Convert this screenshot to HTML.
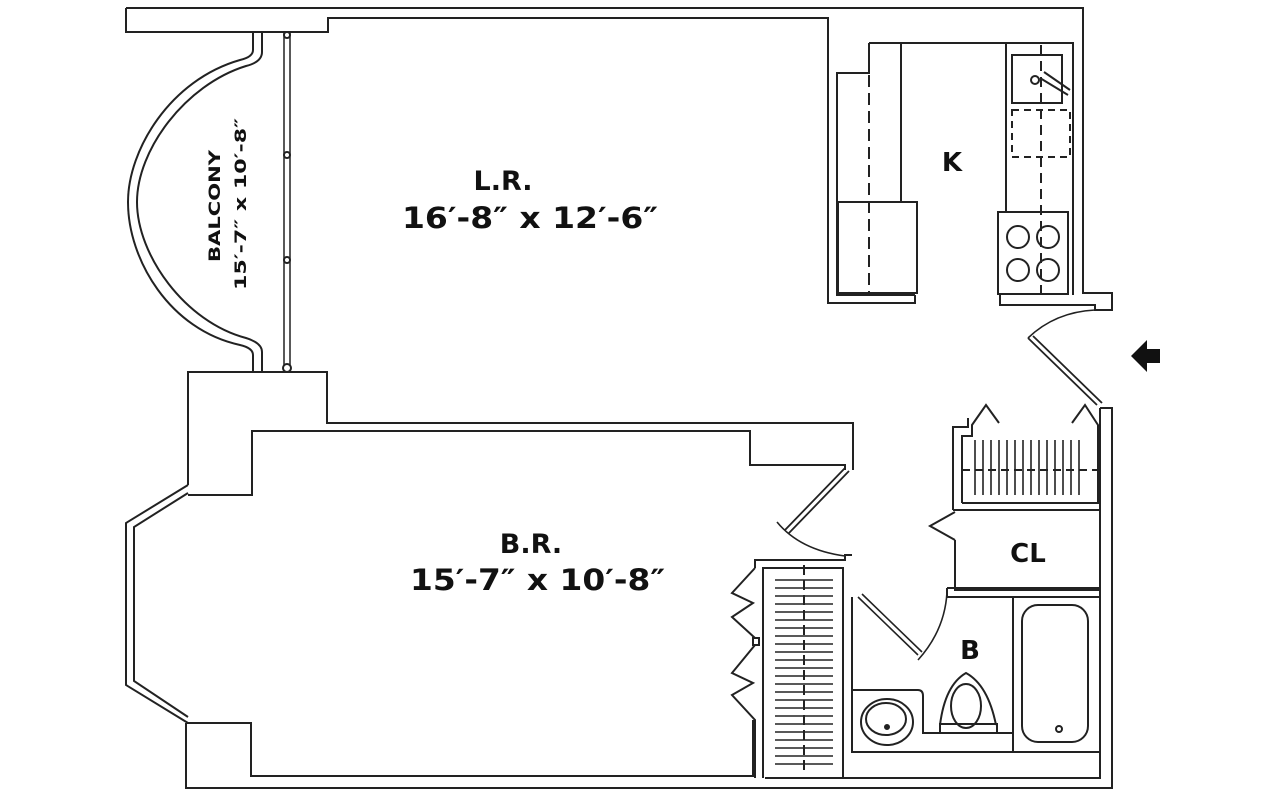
<!DOCTYPE html>
<html><head><meta charset="utf-8"><style>
html,body{margin:0;padding:0;background:#fff;width:1280px;height:800px;overflow:hidden}
svg{display:block}
text{font-family:"DejaVu Sans","Liberation Sans",sans-serif;font-weight:bold;fill:#111}
</style></head><body>
<svg width="1280" height="800" viewBox="0 0 1280 800" xmlns="http://www.w3.org/2000/svg">
<g fill="none" stroke="#222" stroke-width="2" stroke-linejoin="miter">
<path d="M126,8 L1083,8 L1083,293 L1112,293 L1112,310 L1095,310 L1095,305 L1000,305 L1000,295"/>
<path d="M126,8 L126,32 L328,32 L328,18 L828,18 L828,303 L915,303 L915,295"/>
<path d="M869,43 L1073,43 L1073,295"/>
<path d="M869,43 L869,73 L837,73 L837,295 L915,295"/>
<path d="M901,43 L901,202"/>
<rect x="838" y="202" width="79" height="91"/>
<path d="M869,75 L869,295" stroke-dasharray="12,6"/>
<path d="M1006,43 L1006,212"/>
<rect x="1012" y="55" width="50" height="48"/>
<rect x="1012" y="110" width="58" height="47" stroke-dasharray="7,5"/>
<path d="M1041,45 L1041,295" stroke-dasharray="10,6"/>
<rect x="998" y="212" width="70" height="82"/>
<circle cx="1018" cy="237" r="11"/><circle cx="1048" cy="237" r="11"/>
<circle cx="1018" cy="270" r="11"/><circle cx="1048" cy="270" r="11"/>
<circle cx="1035" cy="80" r="4"/><path d="M1040,78 L1068,95 M1044,72 L1070,90"/>
<path d="M1028,338 L1097,405 M1033,336 L1102,403" stroke-width="1.8"/>
<path d="M1028,338 Q1055,312 1095,310" stroke-width="1.6"/>
<path d="M1100,408 L1112,408 L1112,788 L186,788 L186,723"/>
<path d="M1100,408 L1100,778 L765,778"/>
<path d="M253,32 L253,50 Q253,57 240,60 C170,80 128,150 128,202 C128,260 170,330 240,345 Q253,348 253,355 L253,372"/>
<path d="M262,32 L262,52 Q262,62 246,66 C185,85 137,150 137,202 C137,255 185,322 246,338 Q262,343 262,352 L262,372"/>
<path d="M284,32 L284,372 M290,32 L290,372" stroke-width="1.5"/>
<circle cx="287" cy="155" r="3" fill="#fff"/><circle cx="287" cy="260" r="3" fill="#fff"/><circle cx="287" cy="368" r="4" fill="#fff"/><circle cx="287" cy="35" r="3" fill="#fff"/>
<path d="M188,485 L188,372 L327,372 L327,423 L853,423 L853,470"/>
<path d="M188,495 L252,495 L252,431 L750,431 L750,465 L845,465 L845,470"/>
<path d="M188,485 L126,523 L126,685 L188,723"/>
<path d="M188,493 L134,527 L134,681 L188,717"/>
<path d="M186,723 L251,723 L251,776 L753,776 L753,720"/>
<path d="M845,468 L785,530 M849,471 L789,533" stroke-width="1.8"/>
<path d="M777,522 Q800,550 845,556" stroke-width="1.6"/>
<path d="M755,568 L755,560 L845,560 L845,555 L852,555"/>
<path d="M763,778 L763,568 L843,568 L843,778"/>
<path d="M755,568 L732,593 L753,603 L732,617 L755,638 M755,645 L732,673 L753,683 L732,695 L755,720 L755,778"/>
<rect x="753" y="638" width="6" height="7"/>
<path d="M804,565 L804,775" stroke-dasharray="10,5"/>
</g>
<g stroke="#222" stroke-width="1.6">
<path d="M775,580h58M775,588h58M775,596h58M775,604h58M775,612h58M775,620h58M775,628h58M775,636h58M775,644h58M775,652h58M775,660h58M775,668h58M775,676h58M775,684h58M775,692h58M775,700h58M775,708h58M775,716h58M775,724h58M775,732h58M775,740h58M775,748h58M775,756h58M775,764h58"/>
<path d="M975,440v55M983,440v55M991,440v55M999,440v55M1007,440v55M1015,440v55M1023,440v55M1031,440v55M1039,440v55M1047,440v55M1055,440v55M1063,440v55M1071,440v55M1079,440v55"/>
</g>
<g fill="none" stroke="#222" stroke-width="2">
<path d="M953,510 L953,427 L968,427 L968,418"/>
<path d="M962,503 L962,436 L972,436 L972,425 L986,405 L999,423 M1072,423 L1085,405 L1098,425 L1098,503 L962,503"/>
<path d="M962,470 L1098,470" stroke-dasharray="8,5"/>
<path d="M953,510 L1100,510 M955,512 L930,526 L955,540 M955,540 L955,590 L1100,590"/>
<path d="M843,590 L843,755"/>
<path d="M852,597 L852,752 L1100,752"/>
<path d="M947,588 L1100,588 M947,588 L947,597 L1100,597"/>
<path d="M1013,597 L1013,752"/>
<rect x="1022" y="605" width="66" height="137" rx="16"/>
<circle cx="1059" cy="729" r="3"/>
<path d="M858,597 L918,655 M862,594 L922,652" stroke-width="1.6"/>
<path d="M918,660 Q945,630 947,592" stroke-width="1.6"/>
<path d="M852,690 L918,690 Q923,690 923,696 L923,733 L1013,733"/>
<ellipse cx="887" cy="722" rx="26" ry="23"/>
<ellipse cx="886" cy="719" rx="20" ry="16"/>
<circle cx="887" cy="727" r="2" fill="#222"/>
<ellipse cx="966" cy="706" rx="15" ry="22"/>
<path d="M940,725 Q945,685 966,673 Q988,685 996,725"/>
<rect x="940" y="724" width="57" height="9"/>
</g>
<path d="M1131,356 L1147,340 L1147,349 L1160,349 L1160,363 L1147,363 L1147,372 Z" fill="#111"/>
<text x="503" y="190" font-size="27" text-anchor="middle">L.R.</text>
<text x="402" y="228" font-size="29" textLength="256" lengthAdjust="spacingAndGlyphs">16′-8″ x 12′-6″</text>
<text x="952" y="171" font-size="26" text-anchor="middle">K</text>
<text x="531" y="553" font-size="27" text-anchor="middle">B.R.</text>
<text x="410" y="590" font-size="29" textLength="255" lengthAdjust="spacingAndGlyphs">15′-7″ x 10′-8″</text>
<text x="1028" y="562" font-size="26" text-anchor="middle">CL</text>
<text x="970" y="659" font-size="26" text-anchor="middle">B</text>
<text transform="translate(220,262) rotate(-90)" font-size="16" textLength="112" lengthAdjust="spacingAndGlyphs">BALCONY</text>
<text transform="translate(246,290) rotate(-90)" font-size="16" textLength="172" lengthAdjust="spacingAndGlyphs">15′-7″ x 10′-8″</text>
</svg>
</body></html>
